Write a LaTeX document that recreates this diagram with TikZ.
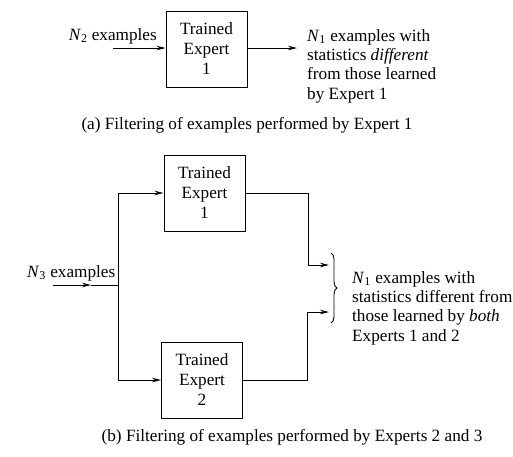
\documentclass[tikz,border=0pt]{standalone}
\usepackage{fontspec}
\setmainfont{Liberation Serif}
\usetikzlibrary{arrows.meta,decorations.pathreplacing}
\begin{document}
\begin{tikzpicture}[x=1pt,y=-1pt,
  txt/.style={font=\fontsize{17.2}{19.3}\selectfont, inner sep=0pt},
  expbox/.style={draw, line width=1pt, minimum width=81pt, minimum height=76pt, align=center, inner sep=0pt, font=\fontsize{17.2}{20}\selectfont},
  wire/.style={line width=0.9pt},
  arr/.style={wire, -{Stealth[length=9pt,width=4.5pt]}}]
\useasboundingbox (0,0) rectangle (513,456);
% (a)
\node[expbox] (a1) at (206.5,49) {Trained\\Expert\\1};
\node[txt, anchor=base east] (n2) at (157,40) {\textit{N}\textsubscript{2} examples};
\coordinate (a0) at (113,48);
\draw[arr] (a0) -- (a0 -| a1.west);
\node[txt, anchor=north west, align=left] (out1) at (307,29) {\textit{N}\textsubscript{1} examples with\\statistics \textit{different}\\from those learned\\by Expert 1};
\draw[arr] (a1.east |- a0) -- (297,48);
\node[txt] (capa) at (247,125) {(a) Filtering of examples performed by Expert 1};
% (b)
\node[expbox] (b1) at (204.5,193) {Trained\\Expert\\1};
\node[expbox] (b2) at (202,380) {Trained\\Expert\\2};
\node[txt, anchor=base west] (n3) at (27,277) {\textit{N}\textsubscript{3} examples};
\coordinate (s0) at (53,285);
\coordinate (sm) at (91,285);
\coordinate (split) at (118,285);
\draw[arr] (s0) -- (sm);
\draw[wire] (sm) -- (split);
\draw[arr] (split) |- (b1.west);
\draw[arr] (split) |- (b2.west);
\coordinate (c1) at (308,265);
\coordinate (e1) at (329,265);
\coordinate (c2) at (307,312);
\coordinate (e2) at (329,312);
\draw[arr] (b1.east) -| (c1) -- (e1);
\draw[arr] (b2.east) -| (c2) -- (e2);
\coordinate (br1) at (331,253);
\coordinate (br2) at (331,323);
\draw[line width=0.9pt, decorate, decoration={brace, amplitude=6pt}] (br1) -- (br2);
\node[txt, anchor=north west, align=left] (out2) at (352,271) {\textit{N}\textsubscript{1} examples with\\statistics different from\\those learned by \textit{both}\\Experts 1 and 2};
\node[txt] (capb) at (292,437) {(b) Filtering of examples performed by Experts 2 and 3};
\end{tikzpicture}
\end{document}
